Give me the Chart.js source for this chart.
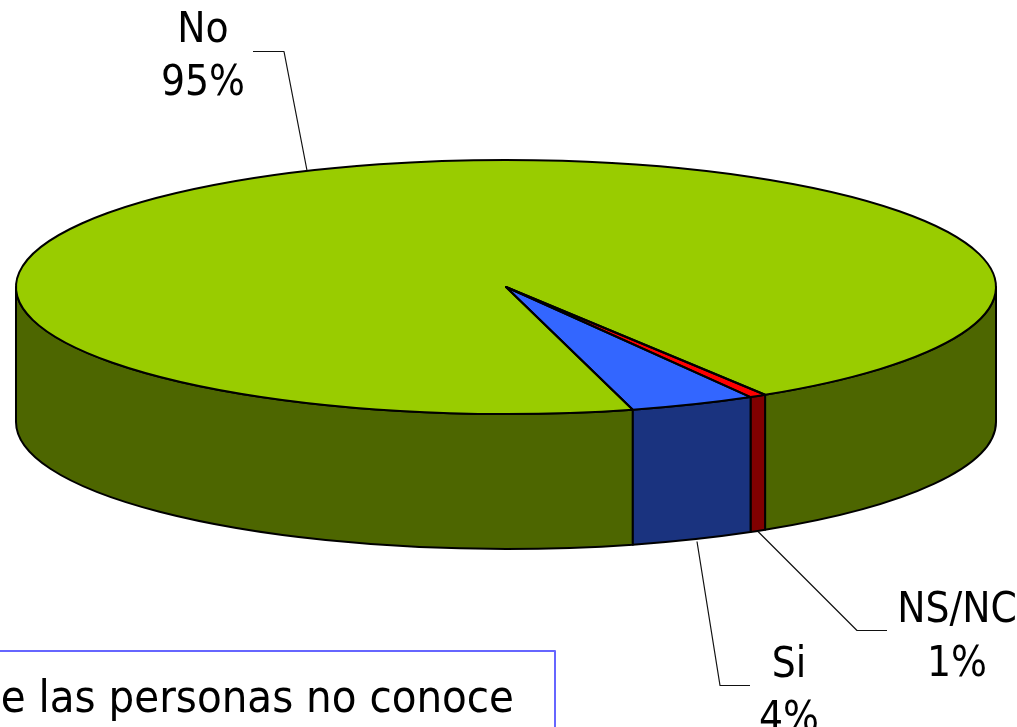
<!DOCTYPE html>
<html>
<head>
<meta charset="utf-8">
<style>html,body{margin:0;padding:0;background:#fff;overflow:hidden}canvas{display:block}</style>
<script src="https://cdn.jsdelivr.net/npm/chart.js@4"></script>
</head>
<body>
<canvas id="c" width="1017" height="727"></canvas>
<script>
const categories = ['No', 'NS/NC', 'Si'];
const values = [95.3, 0.55, 4.15];
const percentLabels = ['95%', '1%', '4%'];
const topColors = ['#99CC00', '#FF0000', '#3366FF'];
const sideColors = ['#4D6600', '#800000', '#1A337F'];
const noteText = 'e las personas no conoce';

const FONT = '42px "DejaVu Sans Condensed", "DejaVu Sans", sans-serif';
const NOTE_FONT = '45px "DejaVu Sans Condensed", "DejaVu Sans", sans-serif';
const E = {cx: 506, cy: 287, rx: 490, ry: 127, depth: 135};
const leaders = [
  [[307,170],[284,51],[253,51]],
  [[758,531],[857,630],[887,630]],
  [[697,541],[720,685],[750,685]]
];
const labelPos = [[203,[42,95]],[957,[622,676]],[789,[677,731]]];

const pie3d = {
  id: 'pie3d',
  beforeDatasetsDraw(chart) {
    const ctx = chart.ctx, arcs = chart.getDatasetMeta(0).data;
    ctx.save();
    ctx.lineWidth = 2; ctx.strokeStyle = '#000'; ctx.lineJoin = 'round';
    arcs.forEach((a, i) => {
      const P = Math.PI, T = 2*P;
      [0, T].forEach(off => {
        const s = Math.max(a.startAngle - off, 0), e = Math.min(a.endAngle - off, P);
        if (e <= s) return;
        ctx.beginPath();
        ctx.ellipse(E.cx, E.cy, E.rx, E.ry, 0, s, e);
        ctx.ellipse(E.cx, E.cy + E.depth, E.rx, E.ry, 0, e, s, true);
        ctx.closePath();
        ctx.fillStyle = sideColors[i];
        ctx.fill();
        ctx.stroke();
      });
    });
    ctx.restore();
    const o = arcs[0];
    ctx.save();
    ctx.translate(E.cx, E.cy);
    ctx.scale(E.rx / o.outerRadius, E.ry / o.outerRadius);
    ctx.translate(-o.x, -o.y);
  },
  afterDatasetsDraw(chart) {
    const ctx = chart.ctx, arcs = chart.getDatasetMeta(0).data;
    ctx.restore();
    ctx.save();
    ctx.lineWidth = 2; ctx.strokeStyle = '#000'; ctx.lineJoin = 'round';
    arcs.forEach(a => {
      ctx.beginPath();
      ctx.moveTo(E.cx, E.cy);
      ctx.ellipse(E.cx, E.cy, E.rx, E.ry, 0, a.startAngle, a.endAngle);
      ctx.closePath();
      ctx.stroke();
    });
    ctx.lineWidth = 1.2; ctx.strokeStyle = '#111';
    leaders.forEach(l => {
      ctx.beginPath();
      l.forEach((p, i) => i ? ctx.lineTo(p[0], p[1] + .5) : ctx.moveTo(p[0], p[1] + .5));
      ctx.stroke();
    });
    ctx.fillStyle = '#000'; ctx.font = FONT; ctx.textAlign = 'center'; ctx.textBaseline = 'alphabetic';
    categories.forEach((c, i) => {
      const [x, ys] = labelPos[i];
      ctx.fillText(c, x, ys[0]);
      ctx.fillText(percentLabels[i], x, ys[1]);
    });
    // note box
    ctx.strokeStyle = '#6666FF'; ctx.lineWidth = 2;
    ctx.beginPath();
    ctx.moveTo(-5, 651); ctx.lineTo(555, 651); ctx.lineTo(555, 732);
    ctx.stroke();
    ctx.textAlign = 'right';
    ctx.fillStyle = '#000';
    ctx.font = NOTE_FONT;
    ctx.fillText(noteText, 514, 712);
    ctx.restore();
  }
};

new Chart(document.getElementById('c'), {
  type: 'pie',
  data: {
    labels: categories,
    datasets: [{ data: values, backgroundColor: topColors, borderWidth: 0, clip: false }]
  },
  options: {
    responsive: false,
    animation: false,
    rotation: 165,
    layout: { padding: 0 },
    plugins: { legend: { display: false }, tooltip: { enabled: false } }
  },
  plugins: [pie3d]
});
</script>
</body>
</html>
